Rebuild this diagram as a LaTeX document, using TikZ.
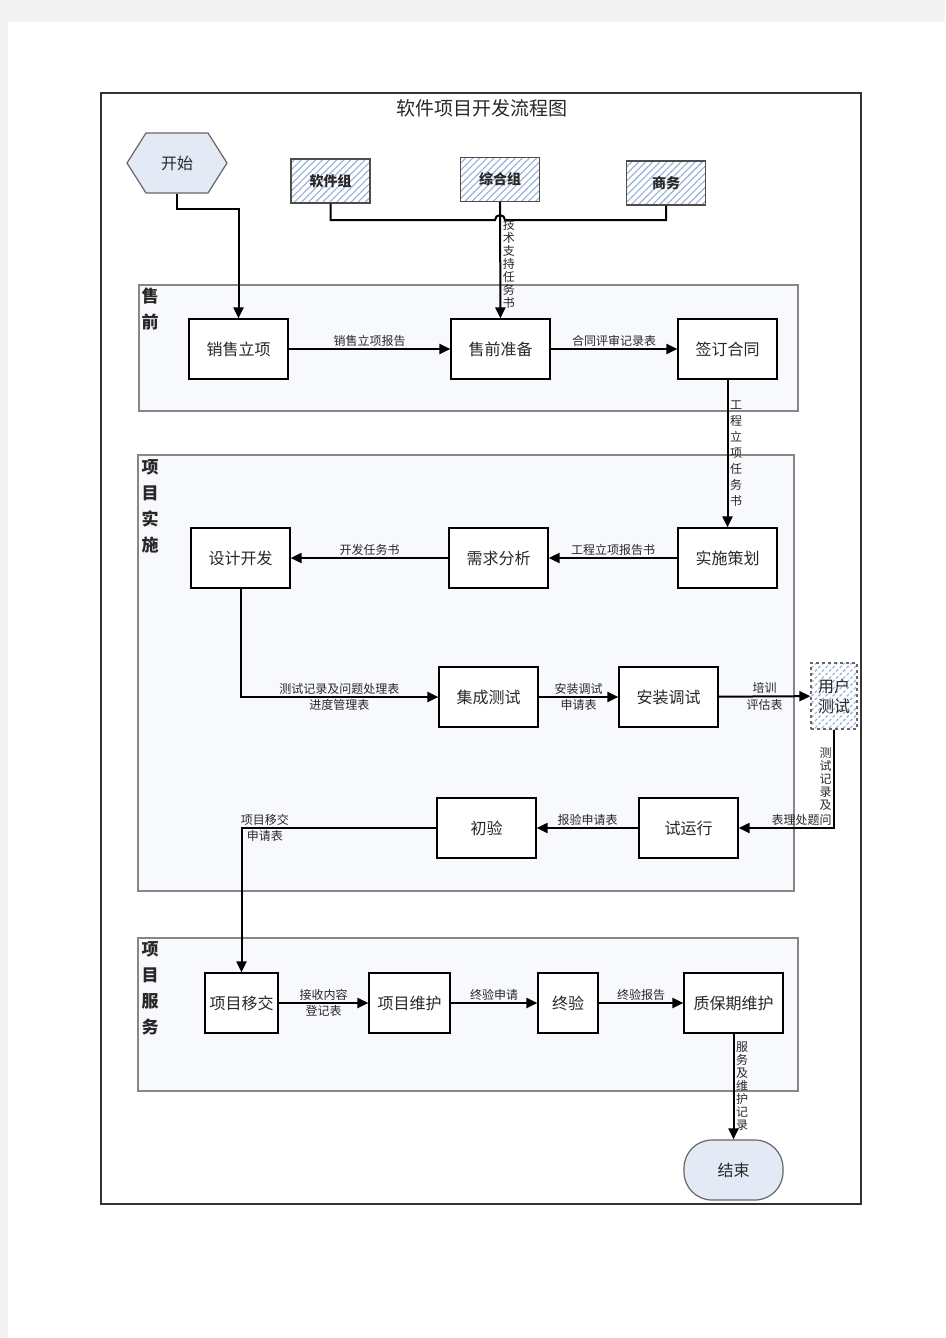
\documentclass[tikz,border=0pt]{standalone}
\usepackage{fontspec}
\setmainfont{Noto Sans CJK SC}
\usetikzlibrary{arrows.meta,patterns.meta}

\definecolor{pagegray}{RGB}{243,243,243}
\definecolor{lanefill}{RGB}{247,249,252}
\definecolor{laneline}{RGB}{135,135,135}
\definecolor{termfill}{RGB}{228,234,245}
\definecolor{hatchblue}{RGB}{150,175,215}
\definecolor{txt}{RGB}{40,40,40}

\tikzset{
  proc/.style={draw=black, line width=1.2pt, fill=white, minimum width=99pt, minimum height=60pt, inner sep=2pt, font=\fontsize{16}{18}\selectfont, text=txt},
  grp/.style={draw=black!70, line width=1.2pt, pattern={Lines[angle=45,distance=5pt,line width=1.1pt]}, pattern color=hatchblue, minimum width=79pt, minimum height=44pt, font=\bfseries\fontsize{14}{16}\selectfont, text=txt},
  term/.style={draw=black!60, line width=1.2pt, minimum width=99pt, minimum height=60pt, font=\fontsize{16}{18}\selectfont, text=txt},
  flow/.style={line width=2pt, -{Triangle[length=11pt,width=10pt]}},
  link/.style={line width=2pt},
  lbl/.style={font=\fontsize{12}{13}\selectfont, text=txt, inner sep=1.5pt},
  vlbl/.style={lbl, align=center},
  lane/.style={draw=laneline, line width=1.2pt, fill=lanefill},
  lanename/.style={font=\bfseries\fontsize{17}{26}\selectfont, text=txt, align=center, anchor=north, inner sep=0pt}
}

\begin{document}
\begin{tikzpicture}[x=1pt,y=-1pt]
\useasboundingbox (0,0) rectangle (945,1338);
\fill[pagegray] (0,0) rectangle (945,1338);
\fill[white] (8,22) rectangle (945,1338);
\draw[black!80, line width=1.2pt] (101,93) rectangle (861,1204);

\draw[lane] (139,285) rectangle (798,411);
\draw[lane] (138,455) rectangle (794,891);
\draw[lane] (138,938) rectangle (798,1091);
\node[lanename] (lsq) at (150,288) {售\\前};
\node[lanename] (lss) at (150,459) {项\\目\\实\\施};
\node[lanename] (lfw) at (150,941) {项\\目\\服\\务};

\node[font=\fontsize{19}{22}\selectfont, text=txt] (title) at (482,108) {软件项目开发流程图};

\filldraw[draw=black!60, fill=termfill, line width=1.2pt] (127,163) -- (146,133) -- (208,133) -- (227,163) -- (208,193) -- (146,193) -- cycle;
\node[term, draw=none] (ks) at (177,163) {开始};

\node[grp] (rjz) at (330.5,181) {软件组};
\node[grp] (zhz) at (500,179.5) {综合组};
\node[grp] (sw) at (666,183) {商务};

\node[proc] (xslx) at (238.5,349) {销售立项};
\node[proc] (sqzb) at (500.5,349) {售前准备};
\node[proc] (qdht) at (727.5,349) {签订合同};

\node[proc] (sscj) at (727.5,558) {实施策划};
\node[proc] (xqfx) at (498.5,558) {需求分析};
\node[proc] (sjkf) at (240.5,558) {设计开发};
\node[proc] (jccs) at (488.5,697) {集成测试};
\node[proc] (aztx) at (668.5,697) {安装调试};
\node[grp, dashed, draw=black!60, minimum width=46pt, minimum height=66pt, inner sep=1pt, align=center, font=\fontsize{16}{20}\selectfont] (yhcs) at (834,696) {用户\\测试};
\node[proc] (syx) at (688.5,828) {试运行};
\node[proc] (cy) at (486.5,828) {初验};

\node[proc, minimum width=73pt] (xmyj) at (241.5,1003) {项目移交};
\node[proc, minimum width=81pt] (xmwh) at (409.5,1003) {项目维护};
\node[proc, minimum width=60pt] (zy) at (568,1003) {终验};
\node[proc] (zbq) at (733.5,1003) {质保期维护};

\node[term, fill=termfill, rounded corners=28pt] (js) at (733.5,1170) {结束};

\coordinate (hop) at (500,220);
\draw[link] (rjz.south) |- ([xshift=-5pt]hop) arc[start angle=180, end angle=0, radius=5pt] -| (sw.south);
\draw[flow] (zhz) -- (sqzb) node[pos=0.53, right, vlbl] {技\\术\\支\\持\\任\\务\\书};
\draw[flow] (ks.south) -- ++(0,15) -| (xslx.north);

\draw[flow] (xslx) -- (sqzb) node[midway, above, lbl] {销售立项报告};
\draw[flow] (sqzb) -- (qdht) node[midway, above, lbl] {合同评审记录表};
\draw[flow] (qdht) -- (sscj) node[midway, right, vlbl, font=\fontsize{12}{16}\selectfont] {工\\程\\立\\项\\任\\务\\书};
\draw[flow] (sscj) -- (xqfx) node[midway, above, lbl] {工程立项报告书};
\draw[flow] (xqfx) -- (sjkf) node[midway, above, lbl] {开发任务书};
\draw[flow] (sjkf) |- (jccs) node[pos=0.75, above, lbl] {测试记录及问题处理表} node[pos=0.75, below, lbl] {进度管理表};
\draw[flow] (jccs) -- (aztx) node[midway, above, lbl] {安装调试} node[midway, below, lbl] {申请表};
\draw[flow] (aztx) -- (yhcs) node[midway, above, lbl] {培训} node[midway, below, lbl] {评估表};
\draw[flow] (yhcs) |- (syx) node[pos=0.25, left, vlbl] {测\\试\\记\\录\\及} node[pos=0.5, anchor=south east, lbl] {表理处题问};
\draw[flow] (syx) -- (cy) node[midway, above, lbl] {报验申请表};
\draw[flow] (cy) -| (xmyj) node[pos=0.44, above, lbl] {项目移交} node[pos=0.44, below, lbl] {申请表};

\draw[flow] (xmyj) -- (xmwh) node[midway, above, lbl] {接收内容} node[midway, below, lbl] {登记表};
\draw[flow] (xmwh) -- (zy) node[midway, above, lbl] {终验申请};
\draw[flow] (zy) -- (zbq) node[midway, above, lbl] {终验报告};
\draw[flow] (zbq) -- (js) node[midway, right, vlbl] {服\\务\\及\\维\\护\\记\\录};
\end{tikzpicture}
\end{document}
